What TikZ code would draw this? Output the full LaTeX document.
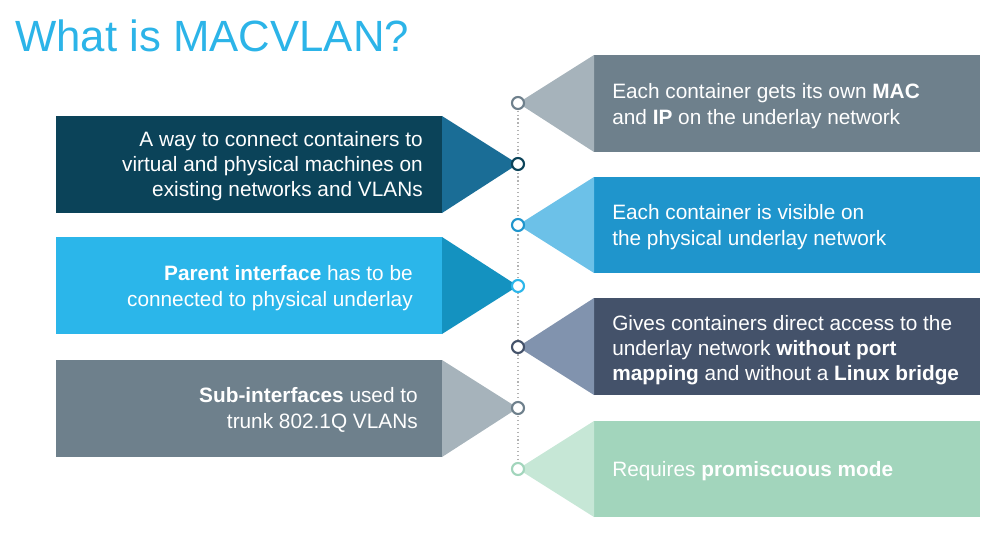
\documentclass[tikz,border=0pt]{standalone}
\usepackage{fontspec}
\setmainfont{Liberation Sans}
\begin{document}
\begin{tikzpicture}[x=0.75pt,y=-0.75pt,
  body/.style={text=white,inner sep=0pt,font=\fontsize{15.6}{19}\selectfont},
  lefttext/.style={body,anchor=east,align=right},
  righttext/.style={body,anchor=west,align=left},
  dot/.style={circle,draw=#1,fill=white,line width=1.6pt,minimum size=9pt,inner sep=0pt},
  spine/.style={draw=black!30,dotted,line width=0.9pt}]
\definecolor{titleblue}{HTML}{2CB4E8}
\definecolor{navyA}{HTML}{0B4359}\definecolor{navyB}{HTML}{1A6D96}
\definecolor{skyA}{HTML}{2BB6EA}\definecolor{skyB}{HTML}{1492C0}
\definecolor{slateA}{HTML}{6E808C}\definecolor{slateB}{HTML}{A6B3BB}
\definecolor{oceanA}{HTML}{1F95CC}\definecolor{oceanB}{HTML}{6CC1E8}
\definecolor{inkA}{HTML}{44526A}\definecolor{inkB}{HTML}{8193AE}
\definecolor{mintA}{HTML}{A2D5BC}\definecolor{mintB}{HTML}{C6E7D6}
\useasboundingbox (0,0) rectangle (991,535);

% title
\node[anchor=base west,inner sep=0pt,text=titleblue,font=\fontsize{32.8}{38}\selectfont] (title) at (15,52) {What is MACVLAN?};

% left-hand arrows
\fill[navyA] (56,116) rectangle (442,213);
\fill[navyB] (442,116) -- (518,164) -- (442,213) -- cycle;
\fill[skyA] (56,237) rectangle (442,334);
\fill[skyB] (442,237) -- (518,286) -- (442,334) -- cycle;
\fill[slateA] (56,360) rectangle (442,457);
\fill[slateB] (442,360) -- (518,408) -- (442,457) -- cycle;

% right-hand arrows
\fill[slateA] (594,55) rectangle (980,152);
\fill[slateB] (594,55) -- (518,103) -- (594,152) -- cycle;
\fill[oceanA] (594,177) rectangle (980,273);
\fill[oceanB] (594,177) -- (518,225) -- (594,273) -- cycle;
\fill[inkA] (594,298) rectangle (980,395);
\fill[inkB] (594,298) -- (518,347) -- (594,395) -- cycle;
\fill[mintA] (594,421) rectangle (980,517);
\fill[mintB] (594,421) -- (518,469) -- (594,517) -- cycle;

% texts
\node[lefttext] (t1) at (423,166) {A way to connect containers to\\virtual and physical machines on\\existing networks and VLANs};
\node[lefttext] (t2) at (413,288) {\textbf{Parent interface} has to be\\connected to physical underlay};
\node[lefttext] (t3) at (418,410) {\textbf{Sub-interfaces} used to\\trunk 802.1Q VLANs};
\node[righttext] (r1) at (612,106) {Each container gets its own \textbf{MAC}\\and \textbf{IP} on the underlay network};
\node[righttext] (r2) at (612,227) {Each container is visible on\\the physical underlay network};
\node[righttext] (r3) at (612,350) {Gives containers direct access to the\\underlay network \textbf{without port}\\\textbf{mapping} and without a \textbf{Linux bridge}};
\node[righttext] (r4) at (612,471) {Requires \textbf{promiscuous mode}};

% spine with connection dots
\coordinate (p1) at (518,103);
\coordinate (p7) at (518,469);
\draw[spine] (p1) -- (p7);
\node[dot=slateA] (c1) at (518,103) {};
\node[dot=navyA] (c2) at (518,164) {};
\node[dot=oceanA] (c3) at (518,225) {};
\node[dot=skyA] (c4) at (518,286) {};
\node[dot=inkA] (c5) at (518,347) {};
\node[dot=slateA] (c6) at (518,408) {};
\node[dot=mintA] (c7) at (518,469) {};
\end{tikzpicture}
\end{document}
